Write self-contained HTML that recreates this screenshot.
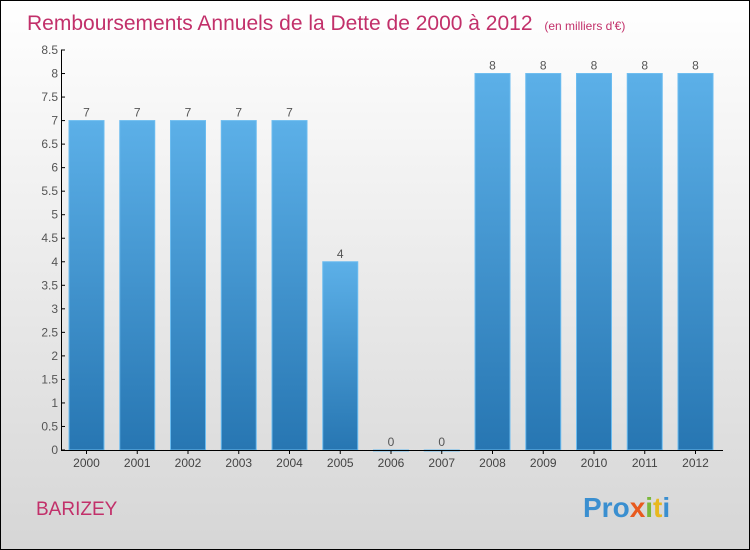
<!DOCTYPE html>
<html><head><meta charset="utf-8"><style>
body{margin:0}
#c{width:748px;height:548px;border:1px solid #000;position:relative;overflow:hidden;background:linear-gradient(#ffffff,#d6d6d6);font-family:"Liberation Sans",sans-serif}
</style></head><body>
<div id="c">
<svg id="s" width="748" height="548" xmlns="http://www.w3.org/2000/svg">
<defs><linearGradient id="g" x1="0" y1="0" x2="0" y2="1"><stop offset="0" stop-color="#5cb0e8"/><stop offset="1" stop-color="#2776b2"/></linearGradient></defs>
<text x="26" y="29" font-size="21" fill="#c2306a">Remboursements Annuels de la Dette de 2000 à 2012 <tspan font-size="12" dx="6">(en milliers d'€)</tspan></text>
<text x="35" y="514" font-size="19" fill="#c2306a">BARIZEY</text>
<text x="582" y="516" font-size="28" font-weight="bold" fill="#3a8fd0">Pro<tspan fill="#e85a1e">x</tspan><tspan fill="#7ab83a">i</tspan><tspan fill="#e8b81e">t</tspan><tspan fill="#3a8fd0">i</tspan></text>
</svg></div>
<script>
const years=["2000","2001","2002","2003","2004","2005","2006","2007","2008","2009","2010","2011","2012"];
const values=[7,7,7,7,7,4,0,0,8,8,8,8,8];
const ticks=[0,0.5,1,1.5,2,2.5,3,3.5,4,4.5,5,5.5,6,6.5,7,7.5,8,8.5];
const s=document.getElementById('s'),NS="http://www.w3.org/2000/svg";
const y=v=>449-v*(400/8.5), x=i=>85.5+i*50.75;
function mk(t,a,txt){const e=document.createElementNS(NS,t);for(const k in a)e.setAttribute(k,a[k]);if(txt!==undefined)e.textContent=txt;s.appendChild(e);return e;}
values.forEach((v,i)=>{
 const r=mk('rect',{x:x(i)-17.5,y:y(v),width:35,height:Math.max(449-y(v),1),fill:'url(#g)',stroke:'#6bbcf0','stroke-width':1});
 
 
 const l=mk('text',{x:x(i),y:y(v)-4,'font-size':12,fill:'#555','text-anchor':'middle'},String(v));
 
 
 const t=mk('text',{x:x(i),y:466,'font-size':12,fill:'#444','text-anchor':'middle'},years[i]);
 
 
 const tk=mk('line',{x1:x(i),x2:x(i),y1:449,y2:453,stroke:'#000'});
 
 
});
ticks.forEach(v=>{
 const t=mk('text',{x:57,y:y(v)+4,'font-size':12,fill:'#555','text-anchor':'end'},String(v));
 
 
 const tk=mk('line',{x1:60,x2:64,y1:y(v),y2:y(v),stroke:'#000'});
 
 
});
const ya=mk('line',{x1:60.5,x2:60.5,y1:y(8.5),y2:449.5,stroke:'#000'});


const xa=mk('line',{x1:60,x2:722,y1:449.5,y2:449.5,stroke:'#000'});


</script>
</body></html>
